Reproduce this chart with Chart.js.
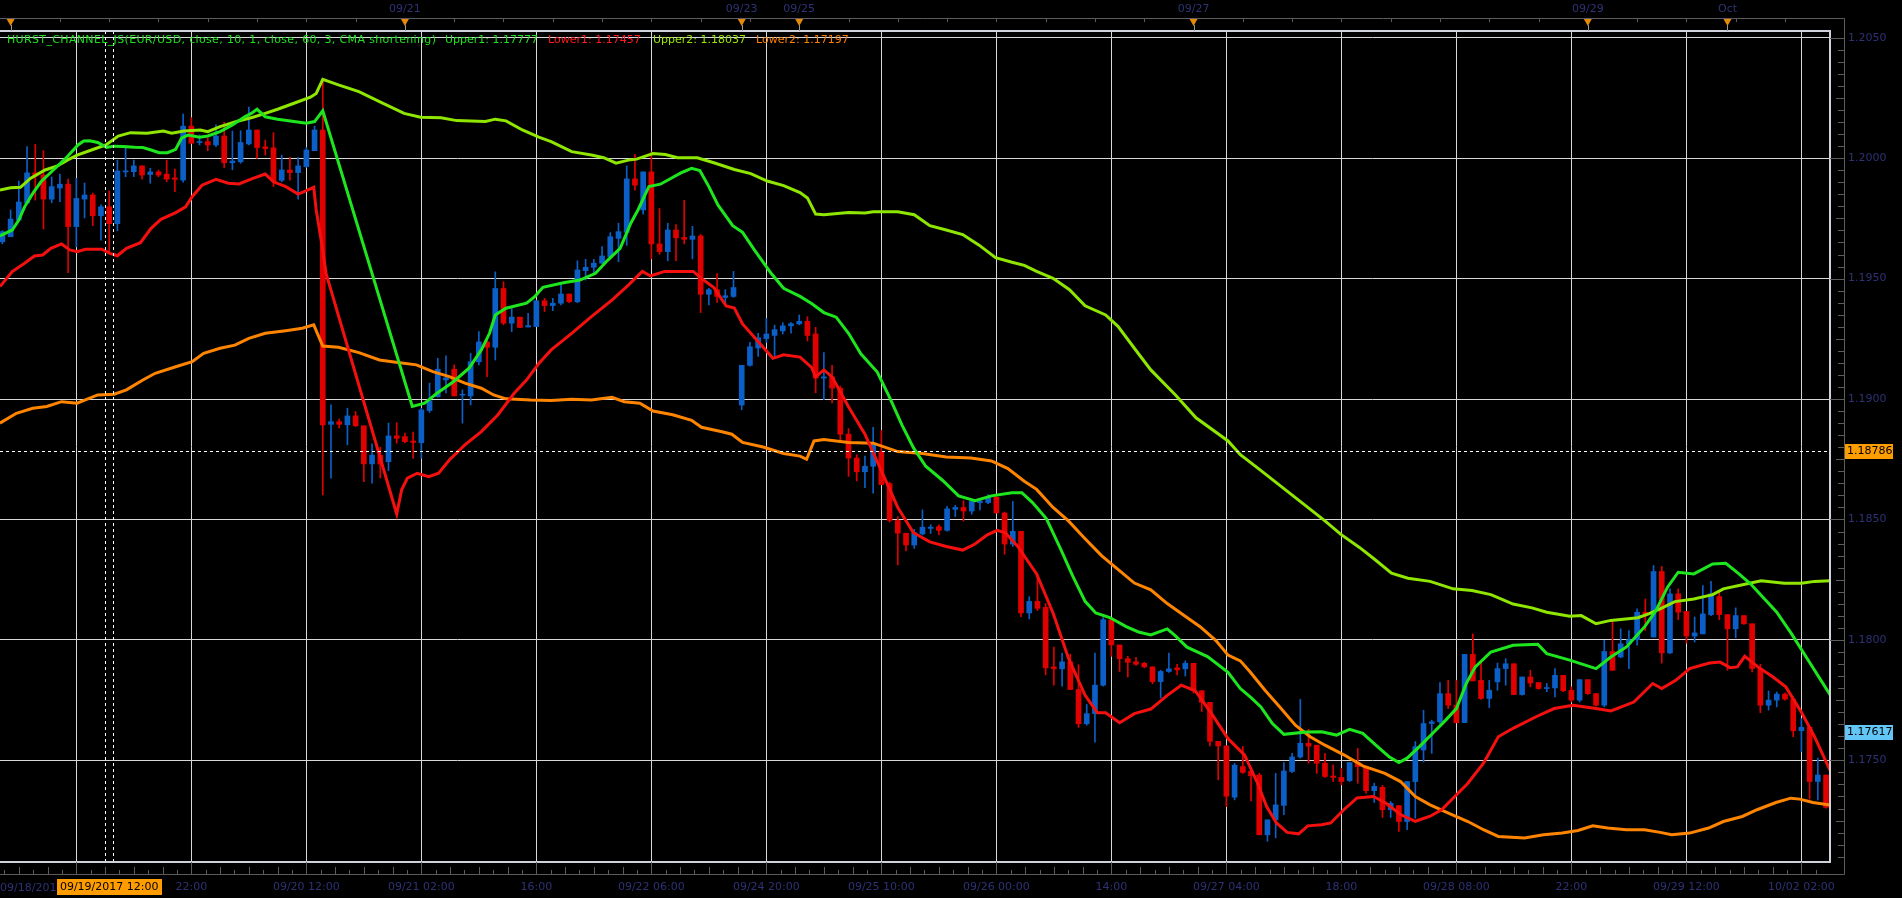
<!DOCTYPE html>
<html>
<head>
<meta charset="utf-8">
<script src="https://cdn.jsdelivr.net/npm/chart.js@4.4.1/dist/chart.umd.min.js"></script>
<style>
  html, body { margin: 0; padding: 0; background: #000; }
  canvas { display: block; }
</style>
</head>
<body>
<canvas id="chart" width="1902" height="898"></canvas>
<script>
// EUR/USD hourly bars, index 0 = 09/18 23:00 (weekend hours skipped)
const opens = [
  1.19653, 1.19674, 1.19743, 1.19814, 1.19939, 1.19930, 1.19830, 1.19876, 1.19892, 1.19716,
  1.19830, 1.19847, 1.19761, 1.19798, 1.19728, 1.19943, 1.19944, 1.19968, 1.19932, 1.19943,
  1.19934, 1.19918, 1.19909, 1.20133, 1.20065, 1.20069, 1.20055, 1.20092, 1.19981, 1.19985,
  1.20059, 1.20117, 1.20047, 1.20043, 1.19908, 1.19951, 1.19940, 1.19965, 1.20031, 1.20117,
  1.18895, 1.18906, 1.18893, 1.18930, 1.18889, 1.18731, 1.18767, 1.18740, 1.18847, 1.18844,
  1.18826, 1.18819, 1.18952, 1.19010, 1.19079, 1.19124, 1.19016, 1.19013, 1.19155, 1.19237,
  1.19215, 1.19459, 1.19315, 1.19340, 1.19299, 1.19301, 1.19408, 1.19388, 1.19398, 1.19436,
  1.19404, 1.19533, 1.19547, 1.19564, 1.19591, 1.19667, 1.19692, 1.19914, 1.19785, 1.19943,
  1.19644, 1.19612, 1.19702, 1.19671, 1.19663, 1.19677, 1.19435, 1.19454, 1.19422, 1.19426,
  1.18975, 1.19140, 1.19212, 1.19251, 1.19264, 1.19283, 1.19304, 1.19312, 1.19323, 1.19270,
  1.19087, 1.19092, 1.19045, 1.18854, 1.18755, 1.18698, 1.18721, 1.18782, 1.18649, 1.18496,
  1.18443, 1.18394, 1.18440, 1.18463, 1.18470, 1.18455, 1.18542, 1.18550, 1.18535, 1.18570,
  1.18570, 1.18592, 1.18527, 1.18398, 1.18451, 1.18112, 1.18160, 1.18135, 1.17888, 1.17880,
  1.17909, 1.17794, 1.17652, 1.17694, 1.17812, 1.18084, 1.17979, 1.17922, 1.17909, 1.17903,
  1.17888, 1.17827, 1.17869, 1.17884, 1.17880, 1.17903, 1.17789, 1.17741, 1.17579, 1.17560,
  1.17347, 1.17474, 1.17455, 1.17439, 1.17191, 1.17253, 1.17313, 1.17454, 1.17514, 1.17571,
  1.17563, 1.17488, 1.17435, 1.17429, 1.17416, 1.17491, 1.17474, 1.17374, 1.17388, 1.17295,
  1.17312, 1.17246, 1.17412, 1.17543, 1.17653, 1.17660, 1.17777, 1.17729, 1.17657, 1.17940,
  1.17832, 1.17757, 1.17826, 1.17881, 1.17901, 1.17773, 1.17846, 1.17823, 1.17798, 1.17801,
  1.17853, 1.17791, 1.17750, 1.17835, 1.17777, 1.17729, 1.17952, 1.17929, 1.17984, 1.18001,
  1.18115, 1.18012, 1.18284, 1.17946, 1.18191, 1.18118, 1.18016, 1.18025, 1.18105, 1.18180,
  1.18105, 1.18046, 1.18101, 1.18067, 1.17881, 1.17729, 1.17750, 1.17775, 1.17754, 1.17623,
  1.17637, 1.17412, 1.17439
];
const highs = [
  1.19699, 1.19785, 1.19905, 1.20048, 1.20058, 1.20031, 1.19922, 1.19934, 1.19913, 1.19916,
  1.19897, 1.19855, 1.19806, 1.19864, 1.19992, 1.20052, 1.19992, 1.19968, 1.19958, 1.19951,
  1.19992, 1.19955, 1.20183, 1.20168, 1.20096, 1.20084, 1.20138, 1.20149, 1.20113, 1.20114,
  1.20212, 1.20117, 1.20075, 1.20106, 1.20013, 1.20004, 1.20004, 1.20044, 1.20133, 1.20330,
  1.18976, 1.18917, 1.18962, 1.18948, 1.18889, 1.18814, 1.18800, 1.18900, 1.18902, 1.18859,
  1.18863, 1.18962, 1.19066, 1.19169, 1.19179, 1.19142, 1.19038, 1.19190, 1.19280, 1.19245,
  1.19528, 1.19487, 1.19384, 1.19340, 1.19356, 1.19408, 1.19418, 1.19418, 1.19474, 1.19436,
  1.19574, 1.19580, 1.19580, 1.19633, 1.19691, 1.19730, 1.19968, 1.20016, 1.19943, 1.20026,
  1.19791, 1.19730, 1.19724, 1.19825, 1.19717, 1.19683, 1.19460, 1.19521, 1.19454, 1.19530,
  1.19140, 1.19235, 1.19273, 1.19334, 1.19307, 1.19317, 1.19317, 1.19349, 1.19342, 1.19298,
  1.19193, 1.19140, 1.19054, 1.18877, 1.18769, 1.18763, 1.18883, 1.18870, 1.18655, 1.18512,
  1.18443, 1.18459, 1.18540, 1.18478, 1.18478, 1.18555, 1.18559, 1.18578, 1.18583, 1.18588,
  1.18603, 1.18598, 1.18531, 1.18575, 1.18451, 1.18179, 1.18274, 1.18151, 1.17970, 1.17945,
  1.17941, 1.17897, 1.17732, 1.17945, 1.18093, 1.18093, 1.17979, 1.17932, 1.17928, 1.17907,
  1.17888, 1.17874, 1.17945, 1.17899, 1.17913, 1.17903, 1.17789, 1.17741, 1.17579, 1.17560,
  1.17488, 1.17558, 1.17465, 1.17446, 1.17253, 1.17446, 1.17491, 1.17529, 1.17753, 1.17629,
  1.17563, 1.17529, 1.17481, 1.17467, 1.17491, 1.17549, 1.17474, 1.17405, 1.17396, 1.17329,
  1.17312, 1.17412, 1.17578, 1.17708, 1.17667, 1.17823, 1.17832, 1.17832, 1.17940, 1.18025,
  1.17908, 1.17832, 1.17904, 1.17922, 1.17901, 1.17846, 1.17874, 1.17823, 1.17819, 1.17881,
  1.17853, 1.17805, 1.17835, 1.17835, 1.17777, 1.17998, 1.18074, 1.18046, 1.18039, 1.18129,
  1.18170, 1.18309, 1.18305, 1.18212, 1.18212, 1.18118, 1.18095, 1.18226, 1.18243, 1.18198,
  1.18105, 1.18133, 1.18101, 1.18067, 1.17899, 1.17788, 1.17784, 1.17780, 1.17764, 1.17674,
  1.17637, 1.17509, 1.17439
];
const lows = [
  1.19644, 1.19674, 1.19739, 1.19814, 1.19826, 1.19706, 1.19815, 1.19819, 1.19525, 1.19632,
  1.19752, 1.19720, 1.19660, 1.19607, 1.19699, 1.19923, 1.19923, 1.19913, 1.19896, 1.19923,
  1.19902, 1.19861, 1.19900, 1.20062, 1.20055, 1.20031, 1.20048, 1.19961, 1.19952, 1.19979,
  1.20055, 1.19999, 1.20013, 1.19882, 1.19902, 1.19909, 1.19830, 1.19962, 1.20031, 1.18602,
  1.18671, 1.18880, 1.18810, 1.18886, 1.18657, 1.18651, 1.18672, 1.18703, 1.18817, 1.18818,
  1.18754, 1.18754, 1.18944, 1.19008, 1.19025, 1.19013, 1.18900, 1.18976, 1.19142, 1.19093,
  1.19162, 1.19308, 1.19280, 1.19297, 1.19299, 1.19301, 1.19363, 1.19367, 1.19391, 1.19400,
  1.19400, 1.19494, 1.19519, 1.19561, 1.19584, 1.19570, 1.19638, 1.19867, 1.19768, 1.19582,
  1.19601, 1.19574, 1.19574, 1.19644, 1.19582, 1.19359, 1.19391, 1.19401, 1.19391, 1.19422,
  1.18956, 1.19136, 1.19177, 1.19235, 1.19177, 1.19270, 1.19273, 1.19308, 1.19241, 1.19026,
  1.18997, 1.18984, 1.18826, 1.18679, 1.18660, 1.18632, 1.18609, 1.18645, 1.18489, 1.18312,
  1.18370, 1.18380, 1.18436, 1.18442, 1.18436, 1.18451, 1.18512, 1.18493, 1.18522, 1.18540,
  1.18566, 1.18527, 1.18356, 1.18388, 1.18097, 1.18087, 1.18122, 1.17855, 1.17812, 1.17808,
  1.17794, 1.17637, 1.17646, 1.17575, 1.17808, 1.17932, 1.17869, 1.17846, 1.17894, 1.17884,
  1.17818, 1.17759, 1.17865, 1.17855, 1.17850, 1.17779, 1.17703, 1.17560, 1.17419, 1.17308,
  1.17336, 1.17446, 1.17332, 1.17191, 1.17164, 1.17178, 1.17274, 1.17449, 1.17509, 1.17488,
  1.17446, 1.17429, 1.17412, 1.17398, 1.17412, 1.17405, 1.17364, 1.17325, 1.17263, 1.17263,
  1.17205, 1.17212, 1.17260, 1.17494, 1.17529, 1.17653, 1.17715, 1.17656, 1.17657, 1.17830,
  1.17753, 1.17719, 1.17791, 1.17812, 1.17773, 1.17771, 1.17805, 1.17795, 1.17785, 1.17763,
  1.17785, 1.17743, 1.17743, 1.17774, 1.17725, 1.17722, 1.17874, 1.17926, 1.17881, 1.17978,
  1.18039, 1.18012, 1.17904, 1.17943, 1.18084, 1.17987, 1.17991, 1.18025, 1.18101, 1.18084,
  1.17874, 1.18009, 1.18064, 1.17867, 1.17698, 1.17709, 1.17722, 1.17750, 1.17598, 1.17536,
  1.17339, 1.17336, 1.17302
];
const closes = [
  1.19695, 1.19747, 1.19818, 1.19939, 1.19926, 1.19830, 1.19882, 1.19892, 1.19716, 1.19833,
  1.19847, 1.19761, 1.19798, 1.19728, 1.19947, 1.19947, 1.19968, 1.19930, 1.19943, 1.19930,
  1.19913, 1.19912, 1.20133, 1.20062, 1.20069, 1.20055, 1.20092, 1.19981, 1.19988, 1.20065,
  1.20117, 1.20044, 1.20040, 1.19905, 1.19951, 1.19940, 1.19968, 1.20034, 1.20117, 1.18893,
  1.18906, 1.18895, 1.18930, 1.18889, 1.18731, 1.18767, 1.18730, 1.18847, 1.18837, 1.18823,
  1.18820, 1.18955, 1.18993, 1.19124, 1.19088, 1.19013, 1.19020, 1.19155, 1.19237, 1.19215,
  1.19459, 1.19315, 1.19340, 1.19297, 1.19305, 1.19408, 1.19388, 1.19398, 1.19436, 1.19404,
  1.19536, 1.19547, 1.19564, 1.19594, 1.19674, 1.19695, 1.19914, 1.19888, 1.19943, 1.19644,
  1.19612, 1.19702, 1.19669, 1.19663, 1.19677, 1.19435, 1.19454, 1.19426, 1.19429, 1.19463,
  1.19140, 1.19217, 1.19254, 1.19270, 1.19288, 1.19304, 1.19313, 1.19323, 1.19264, 1.19087,
  1.19092, 1.19045, 1.18854, 1.18755, 1.18698, 1.18721, 1.18817, 1.18645, 1.18496, 1.18443,
  1.18394, 1.18445, 1.18468, 1.18468, 1.18455, 1.18544, 1.18550, 1.18535, 1.18575, 1.18577,
  1.18592, 1.18527, 1.18398, 1.18451, 1.18112, 1.18160, 1.18131, 1.17884, 1.17880, 1.17909,
  1.17794, 1.17652, 1.17694, 1.17812, 1.18084, 1.17979, 1.17922, 1.17907, 1.17899, 1.17888,
  1.17827, 1.17869, 1.17880, 1.17876, 1.17903, 1.17789, 1.17741, 1.17579, 1.17560, 1.17351,
  1.17480, 1.17450, 1.17436, 1.17191, 1.17253, 1.17315, 1.17456, 1.17514, 1.17571, 1.17559,
  1.17488, 1.17433, 1.17429, 1.17412, 1.17491, 1.17474, 1.17374, 1.17392, 1.17295, 1.17322,
  1.17246, 1.17412, 1.17557, 1.17653, 1.17660, 1.17777, 1.17729, 1.17656, 1.17940, 1.17830,
  1.17757, 1.17791, 1.17881, 1.17901, 1.17773, 1.17846, 1.17821, 1.17798, 1.17802, 1.17853,
  1.17789, 1.17750, 1.17835, 1.17777, 1.17729, 1.17952, 1.17874, 1.17984, 1.18001, 1.18115,
  1.18108, 1.18284, 1.17946, 1.18191, 1.18115, 1.18016, 1.18029, 1.18108, 1.18191, 1.18105,
  1.18046, 1.18101, 1.18067, 1.17881, 1.17729, 1.17750, 1.17775, 1.17754, 1.17623, 1.17637,
  1.17412, 1.17439, 1.17305
];

// Hurst channel bands, as [bar, price]
const upper1 = [
  [-0.3,1.19677],[1.2,1.19702],[2,1.19743],[2.7,1.19798],[3.7,1.19854],[4.7,1.19902],[6.2,1.19951],[7.7,1.19999],
  [9.2,1.20055],[9.9,1.20071],[10.6,1.20072],[11.6,1.20065],[12.7,1.20045],[13.6,1.20050],[14.6,1.20048],[16.1,1.20045],
  [17.1,1.20044],[18.1,1.20034],[19.1,1.20023],[20.1,1.20023],[21.1,1.20037],[21.8,1.20083],[22.6,1.20096],[24,1.20087],
  [25,1.20092],[26.5,1.20110],[28,1.20138],[29.5,1.20172],[30.3,1.20186],[31,1.20203],[32,1.20172],[33.5,1.20162],
  [35.5,1.20152],[37,1.20145],[38,1.20152],[39,1.20197],[49.9,1.18969],[51.4,1.18983],[52.9,1.19024],[54.9,1.19072],
  [56.8,1.19128],[58.3,1.19204],[59.3,1.19273],[60,1.19349],[61.3,1.19377],[63.8,1.19398],[64.8,1.19425],[65.8,1.19464],
  [68.3,1.19483],[70.3,1.19494],[72.2,1.19522],[73.7,1.19577],[75.2,1.19626],[76.5,1.19730],[77.4,1.19787],[78.7,1.19882],
  [80.1,1.19892],[82.6,1.19939],[83.9,1.19958],[84.9,1.19949],[86,1.19882],[87.1,1.19806],[88.9,1.19720],[90.1,1.19692],
  [91.6,1.19616],[93.6,1.19521],[95.1,1.19460],[97.1,1.19426],[98.5,1.19397],[100,1.19359],[101.5,1.19340],[103,1.19273],
  [104.5,1.19188],[106.5,1.19112],[108,1.19007],[109.5,1.18893],[110.9,1.18798],[112.4,1.18721],[114.4,1.18664],[116.4,1.18598],
  [118.4,1.18578],[120.4,1.18598],[122.9,1.18611],[124.1,1.18611],[125.4,1.18570],[127.1,1.18503],[128.8,1.18379],[130.3,1.18265],
  [131.8,1.18160],[133.1,1.18112],[134.8,1.18093],[136.8,1.18055],[138.3,1.18033],[139.8,1.18021],[141.8,1.18046],[142.8,1.18017],
  [144.2,1.17970],[146.7,1.17931],[149.2,1.17865],[150.7,1.17798],[152,1.17760],[153.2,1.17722],[154.6,1.17653],[156,1.17608],
  [158.7,1.17618],[160.6,1.17619],[162.4,1.17605],[164,1.17629],[165.6,1.17612],[167.4,1.17557],[168.8,1.17515],[170,1.17491],
  [171,1.17509],[172.5,1.17557],[174.3,1.17619],[175.7,1.17667],[177,1.17715],[178.2,1.17819],[179.3,1.17888],[181.2,1.17950],
  [183.9,1.17978],[186.9,1.17982],[188,1.17943],[190.8,1.17916],[194,1.17881],[195.8,1.17929],[197.7,1.17971],[199.9,1.18054],
  [201.3,1.18122],[202.7,1.18219],[204,1.18281],[205.9,1.18274],[208.2,1.18315],[209.8,1.18318],[211.4,1.18274],[212.8,1.18233],
  [216,1.18115],[217.8,1.18025],[220.1,1.17901],[222.5,1.17772]
];
const lower1 = [
  [-0.3,1.19467],[1.2,1.19529],[2.7,1.19564],[3.9,1.19594],[4.9,1.19598],[5.9,1.19626],[7.2,1.19644],[8.2,1.19619],
  [9.1,1.19612],[10.1,1.19622],[12.1,1.19622],[13.1,1.19605],[14,1.19595],[15.1,1.19626],[16.8,1.19649],[18.1,1.19709],
  [19.3,1.19746],[21.1,1.19774],[22.3,1.19798],[23.1,1.19840],[24.3,1.19888],[26,1.19912],[27.5,1.19896],[28.8,1.19893],
  [30.5,1.19916],[32,1.19934],[33,1.19902],[34.5,1.19882],[36,1.19851],[37,1.19865],[37.9,1.19879],[38.2,1.19785],
  [39,1.19619],[39.4,1.19522],[48,1.18523],[48.6,1.18623],[49.3,1.18672],[50.5,1.18692],[51.9,1.18678],[53.1,1.18692],
  [54.4,1.18747],[56.3,1.18810],[58.3,1.18865],[60.3,1.18934],[62.3,1.19024],[63.8,1.19079],[65.3,1.19148],[66.8,1.19204],
  [69.3,1.19273],[71.7,1.19342],[74.2,1.19411],[76.2,1.19473],[77.9,1.19530],[78.9,1.19511],[80.6,1.19530],[84.1,1.19530],
  [85.1,1.19501],[86.6,1.19463],[88.1,1.19387],[89.1,1.19378],[90.1,1.19312],[92.1,1.19235],[93.8,1.19169],[95.1,1.19184],
  [97.1,1.19174],[98.5,1.19131],[99,1.19092],[100,1.19121],[101,1.19092],[103,1.18968],[105,1.18854],[107,1.18702],
  [109,1.18550],[110.9,1.18445],[112.9,1.18407],[114.9,1.18388],[116.9,1.18373],[118.4,1.18398],[119.9,1.18436],[121.1,1.18455],
  [122.1,1.18445],[123.6,1.18388],[125.9,1.18274],[127.9,1.18112],[129.8,1.17922],[131.8,1.17770],[133.3,1.17698],[134.3,1.17698],
  [136,1.17656],[137.8,1.17694],[139.8,1.17713],[141.8,1.17770],[143.5,1.17812],[145.2,1.17789],[147.2,1.17694],[149.2,1.17590],
  [151.2,1.17523],[152.8,1.17405],[153.9,1.17308],[155.1,1.17240],[156.4,1.17201],[157.8,1.17195],[158.9,1.17228],[160.6,1.17233],
  [161.7,1.17240],[163.3,1.17295],[164.9,1.17344],[166.9,1.17350],[168.4,1.17323],[170.2,1.17275],[172,1.17247],[173.8,1.17268],
  [175.2,1.17295],[176.8,1.17350],[178.4,1.17405],[180.3,1.17488],[182.1,1.17598],[183.9,1.17633],[186.7,1.17681],[188.9,1.17715],
  [191.2,1.17729],[194,1.17715],[195.8,1.17705],[198.6,1.17742],[200.9,1.17819],[202,1.17798],[203.7,1.17832],[205.4,1.17881],
  [207.8,1.17904],[209.1,1.17908],[210.3,1.17885],[211.2,1.17888],[212.1,1.17932],[213.7,1.17888],[215.5,1.17847],[217.1,1.17805],
  [219,1.17700],[220.6,1.17598],[222.5,1.17457]
];
const upper2 = [
  [-0.3,1.19868],[1,1.19877],[2.2,1.19879],[3.4,1.19916],[5.2,1.19951],[6.7,1.19968],[7.9,1.19992],[9.1,1.20013],
  [11.1,1.20037],[12.6,1.20055],[14.1,1.20092],[15.6,1.20106],[17.6,1.20104],[19.6,1.20113],[20.6,1.20104],[22.1,1.20113],
  [24.1,1.20117],[25,1.20110],[26.5,1.20131],[28.5,1.20152],[30.5,1.20170],[32,1.20186],[33.5,1.20203],[35.5,1.20228],
  [37.5,1.20253],[38.2,1.20269],[39,1.20327],[40.9,1.20304],[43.4,1.20276],[45.9,1.20235],[48.9,1.20186],[50.9,1.20170],
  [53.4,1.20168],[55.3,1.20156],[58.8,1.20152],[60,1.20162],[61.3,1.20155],[63.3,1.20117],[65.3,1.20087],[66.8,1.20069],
  [69.3,1.20027],[71.7,1.20013],[73.2,1.20002],[74.7,1.19979],[76.2,1.19992],[77.2,1.19996],[79.2,1.20019],[80.7,1.20015],
  [82.2,1.20002],[84.6,1.20002],[86.6,1.19981],[89.1,1.19953],[91.1,1.19936],[93.1,1.19905],[95.1,1.19886],[97.1,1.19857],
  [98,1.19835],[99,1.19768],[100,1.19765],[103,1.19774],[105,1.19772],[106,1.19778],[109,1.19778],[111,1.19765],
  [112.9,1.19720],[114.9,1.19702],[116.9,1.19683],[118.9,1.19639],[120.9,1.19587],[122.9,1.19568],[124.4,1.19555],[125.9,1.19530],
  [127.9,1.19501],[129.9,1.19454],[131.8,1.19387],[134.3,1.19349],[135.8,1.19302],[138.3,1.19188],[139.8,1.19121],[142.8,1.19017],
  [145.3,1.18922],[149.2,1.18826],[150.7,1.18769],[153.1,1.18706],[161,1.18494],[162.9,1.18439],[165.2,1.18384],[167,1.18336],
  [169.1,1.18277],[171.1,1.18256],[173.8,1.18243],[176.6,1.18212],[178.9,1.18205],[181.2,1.18188],[183.9,1.18149],[186.2,1.18133],
  [188,1.18115],[190.8,1.18098],[192.2,1.18101],[194,1.18067],[195.8,1.18081],[199.1,1.18092],[200.4,1.18108],[201.8,1.18129],
  [203.6,1.18159],[205.9,1.18170],[208.2,1.18188],[209.5,1.18212],[211.4,1.18226],[214.1,1.18246],[216.9,1.18235],[219,1.18235],
  [220.6,1.18243],[222.5,1.18246]
];
const lower2 = [
  [-0.3,1.18900],[1.7,1.18941],[3.7,1.18962],[5.4,1.18969],[7.2,1.18989],[9.1,1.18983],[11.6,1.19017],[13.6,1.19020],
  [15.1,1.19038],[17.1,1.19079],[18.6,1.19107],[21.1,1.19134],[23.1,1.19155],[24.5,1.19190],[26.5,1.19211],[28.3,1.19224],
  [30,1.19252],[32,1.19273],[34.5,1.19284],[36.5,1.19294],[37.9,1.19308],[39,1.19220],[40.9,1.19215],[43.4,1.19193],
  [45.9,1.19162],[47.9,1.19153],[50.4,1.19142],[52.4,1.19114],[54.4,1.19093],[56.3,1.19066],[58.3,1.19045],[59.8,1.19017],
  [61.3,1.19001],[64.3,1.18996],[66.8,1.18994],[69.3,1.18999],[71.7,1.18996],[74.2,1.19007],[75.7,1.18989],[77.6,1.18983],
  [79.2,1.18950],[81.6,1.18935],[83.9,1.18912],[85.1,1.18883],[87.6,1.18864],[88.8,1.18854],[90.1,1.18820],[92.6,1.18801],
  [95.1,1.18774],[97.1,1.18763],[97.9,1.18750],[98.8,1.18826],[100,1.18832],[103,1.18820],[106,1.18817],[109,1.18782],
  [112,1.18774],[114.9,1.18759],[117.9,1.18755],[120.4,1.18743],[122.4,1.18711],[124.4,1.18659],[125.9,1.18625],[127.9,1.18550],
  [129.8,1.18493],[131.8,1.18420],[133.8,1.18350],[135.8,1.18293],[137.8,1.18236],[139.8,1.18208],[141.8,1.18151],[144.2,1.18093],
  [145.8,1.18055],[147.7,1.17998],[149.2,1.17937],[150.7,1.17913],[151.9,1.17867],[153.7,1.17791],[155.5,1.17722],[157.4,1.17646],
  [159.2,1.17598],[161,1.17563],[163.3,1.17523],[165.6,1.17477],[168.3,1.17446],[170.2,1.17412],[172,1.17350],[173.8,1.17315],
  [176.1,1.17280],[178.4,1.17246],[180.3,1.17212],[182.1,1.17184],[185.3,1.17178],[187.6,1.17191],[189.9,1.17198],[191.8,1.17209],
  [193.6,1.17228],[195.4,1.17219],[197.7,1.17212],[199.9,1.17212],[201.8,1.17201],[203.2,1.17191],[205.4,1.17198],[207.7,1.17219],
  [209.5,1.17246],[211.8,1.17267],[213.6,1.17295],[215.9,1.17325],[217.7,1.17343],[218.8,1.17339],[220.4,1.17325],[222.5,1.17315]
];

// axes
const xTickBars = [9, 23, 37, 51, 65, 79, 93, 107, 121, 135, 149, 163, 177, 191, 205, 219];
const xTickLabels = ['', '22:00', '09/20 12:00', '09/21 02:00', '16:00', '09/22 06:00', '09/24 20:00', '09/25 10:00',
  '09/26 00:00', '14:00', '09/27 04:00', '18:00', '09/28 08:00', '22:00', '09/29 12:00', '10/02 02:00'];
const dayMarkBars = [1, 49, 90, 97, 145, 193, 210];
const dayMarkLabels = ['', '09/21', '09/23', '09/25', '09/27', '09/29', 'Oct'];
const priceTicks = [1.175, 1.18, 1.185, 1.19, 1.195, 1.2, 1.205];

const cursorBar = 13;
const cursorPrice = 1.18786;
const cursorTime = '09/19/2017 12:00';
const firstDateLabel = '09/18/2017 22:00';
const lastPrice = 1.17617;

const UP = '#0b5fc6', DOWN = '#e00000';
const TEXT = '#2e3275';
const FONT = '11px "DejaVu Sans"';

Chart.defaults.font.family = 'DejaVu Sans';
Chart.defaults.font.size = 11;

const candleColors = opens.map((o, i) => closes[i] >= o ? UP : DOWN);
const wicks = opens.map((o, i) => ({ x: i, y: [lows[i], highs[i]] }));
const bodies = opens.map((o, i) => ({ x: i, y: [o, closes[i]] }));
const toXY = pts => pts.map(([x, y]) => ({ x, y }));
const labelledDays = dayMarkBars.filter((b, i) => dayMarkLabels[i] !== '');

const band = (label, pts, color) => ({
  type: 'line', label, data: toXY(pts), borderColor: color, borderWidth: 3,
  pointRadius: 0, pointHoverRadius: 0, pointHitRadius: 0, tension: 0, order: 0
});

function seg(ctx, x1, y1, x2, y2) {
  ctx.beginPath(); ctx.moveTo(x1, y1); ctx.lineTo(x2, y2); ctx.stroke();
}

function priceBox(ctx, py, text, bg) {
  ctx.fillStyle = bg;
  ctx.fillRect(1845, Math.round(py) - 7, 48, 15);
  ctx.fillStyle = '#000';
  ctx.textAlign = 'left';
  ctx.textBaseline = 'middle';
  ctx.fillText(text, 1847, Math.round(py) + 0.5);
}

const decor = {
  id: 'decor',
  afterDatasetsDraw(chart) {
    const { ctx, chartArea: a, scales: { x, y } } = chart;
    ctx.save();
    ctx.strokeStyle = '#ffffff';
    ctx.lineWidth = 1;
    ctx.setLineDash([3, 3]);
    const cy = Math.round(y.getPixelForValue(cursorPrice)) + 0.5;
    seg(ctx, a.left, cy, a.right, cy);
    [cursorBar - 0.5, cursorBar + 0.5].forEach(b => {
      const px = Math.round(x.getPixelForValue(b)) + 0.5;
      seg(ctx, px, a.top, px, a.bottom);
    });
    ctx.restore();
  },
  afterDraw(chart) {
    const { ctx, chartArea: a, scales: { x, y } } = chart;
    const axisTop = 18, axisRight = 1844, axisBottom = 874;
    ctx.save();

    // plot frame
    ctx.strokeStyle = '#cfd2da';
    ctx.lineWidth = 2;
    ctx.beginPath();
    ctx.moveTo(a.left, a.top); ctx.lineTo(a.right, a.top);
    ctx.lineTo(a.right, a.bottom); ctx.lineTo(a.left, a.bottom);
    ctx.stroke();

    // axis frame
    ctx.strokeStyle = '#5c5c5c';
    ctx.lineWidth = 1;
    ctx.beginPath();
    ctx.moveTo(0, axisTop + 0.5); ctx.lineTo(axisRight + 0.5, axisTop + 0.5);
    ctx.lineTo(axisRight + 0.5, axisBottom + 0.5); ctx.lineTo(0, axisBottom + 0.5);
    ctx.stroke();

    // price axis ticks every 0.0005
    for (let k = Math.ceil(y.min / 0.0005); k * 0.0005 <= y.max; k++) {
      const py = Math.round(y.getPixelForValue(k * 0.0005)) + 0.5;
      const len = k % 10 === 0 ? axisRight - a.right : (k % 5 === 0 ? 8 : 6);
      seg(ctx, axisRight - len, py, axisRight, py);
    }
    // time axis ticks, 8 per labelled step
    for (let k = -6; ; k++) {
      const b = xTickBars[0] + k * 1.75;
      if (b > x.max) break;
      if (b < x.min) continue;
      const px = Math.round(x.getPixelForValue(b)) + 0.5;
      const len = k % 8 === 0 ? axisBottom - a.bottom : (k % 2 === 0 ? 7 : 4);
      seg(ctx, px, axisBottom - len, px, axisBottom);
    }
    // top axis ticks
    for (let b = 1; b <= x.max; b += 6) {
      const px = Math.round(x.getPixelForValue(b)) + 0.5;
      seg(ctx, px, axisTop, px, axisTop + 4);
    }
    // day markers
    dayMarkBars.forEach(b => {
      const px = x.getPixelForValue(b);
      ctx.strokeStyle = '#9a9a9a';
      seg(ctx, Math.round(px) + 0.5, 25, Math.round(px) + 0.5, a.top);
      ctx.fillStyle = '#e5890a';
      ctx.beginPath();
      ctx.moveTo(px - 4, 19); ctx.lineTo(px + 4, 19); ctx.lineTo(px, 26);
      ctx.closePath(); ctx.fill();
    });

    ctx.font = FONT;

    // indicator caption
    const caption = [
      ['HURST_CHANNEL_JS(EUR/USD, close, 10, 1, close, 60, 3, CMA shortening)', '#1fe01f', 7],
      ['Upper1: 1.17777', '#1fe01f', 445],
      ['Lower1: 1.17457', '#ff1a1a', 548],
      ['Upper2: 1.18037', '#99e600', 653],
      ['Lower2: 1.17197', '#ff8000', 756]
    ];
    ctx.textAlign = 'left';
    ctx.textBaseline = 'middle';
    caption.forEach(([t, c, tx], i) => {
      ctx.letterSpacing = i === 0 ? '0.35px' : '0px';
      ctx.fillStyle = c;
      ctx.fillText(t, tx, 40);
    });
    ctx.letterSpacing = '0px';

    // first date, partly covered by the cursor label
    ctx.fillStyle = TEXT;
    ctx.fillText(firstDateLabel, 0, 888);

    // cursor time label
    const cx = x.getPixelForValue(cursorBar);
    const tw = ctx.measureText(cursorTime).width + 6;
    ctx.fillStyle = '#ff9c00';
    ctx.fillRect(Math.round(cx - tw / 2), 879, Math.round(tw), 16);
    ctx.fillStyle = '#000';
    ctx.textAlign = 'center';
    ctx.fillText(cursorTime, cx, 887.5);

    // price labels
    priceBox(ctx, y.getPixelForValue(cursorPrice), cursorPrice.toFixed(5), '#ff9c00');
    priceBox(ctx, y.getPixelForValue(lastPrice), lastPrice.toFixed(5), '#62c6f6');

    ctx.restore();
  }
};

new Chart(document.getElementById('chart'), {
  type: 'bar',
  data: {
    datasets: [
      band('Upper1', upper1, '#1ee61e'),
      band('Lower1', lower1, '#f51010'),
      band('Upper2', upper2, '#8fe600'),
      band('Lower2', lower2, '#ff8500'),
      { type: 'bar', label: 'wick', data: wicks, backgroundColor: candleColors,
        barThickness: 1, grouped: false, order: 2 },
      { type: 'bar', label: 'body', data: bodies, backgroundColor: candleColors,
        barThickness: 5, grouped: false, minBarLength: 1, order: 1 }
    ]
  },
  options: {
    responsive: false,
    animation: false,
    devicePixelRatio: 1,
    layout: { padding: 0, autoPadding: false },
    plugins: { legend: { display: false }, tooltip: { enabled: false } },
    scales: {
      x: {
        type: 'linear', position: 'bottom', min: -0.292, max: 222.48, offset: false,
        afterBuildTicks: s => { s.ticks = xTickBars.map(v => ({ value: v })); },
        afterFit: s => { s.height = 36; },
        grid: { color: '#d8d8d8', lineWidth: 1, drawTicks: false, offset: false },
        border: { display: false },
        ticks: { color: TEXT, padding: 19, maxRotation: 0, autoSkip: false,
          callback: v => xTickLabels[xTickBars.indexOf(v)] ?? '' }
      },
      x2: {
        type: 'linear', position: 'top', axis: 'x', min: -0.292, max: 222.48, offset: false,
        afterBuildTicks: s => { s.ticks = labelledDays.map(v => ({ value: v })); },
        afterFit: s => { s.height = 31; },
        grid: { drawOnChartArea: false, drawTicks: false },
        border: { display: false },
        ticks: { color: TEXT, padding: 15, maxRotation: 0, autoSkip: false,
          callback: v => dayMarkLabels[dayMarkBars.indexOf(v)] ?? '' }
      },
      y: {
        type: 'linear', position: 'right', min: 1.17078, max: 1.20528, beginAtZero: false,
        afterBuildTicks: s => { s.ticks = priceTicks.map(v => ({ value: v })); },
        afterFit: s => { s.width = 72; },
        grid: { color: '#d8d8d8', lineWidth: 1, drawTicks: false },
        border: { display: false },
        ticks: { color: TEXT, padding: 18, callback: v => v.toFixed(4) }
      }
    }
  },
  plugins: [decor]
});
</script>
</body>
</html>
